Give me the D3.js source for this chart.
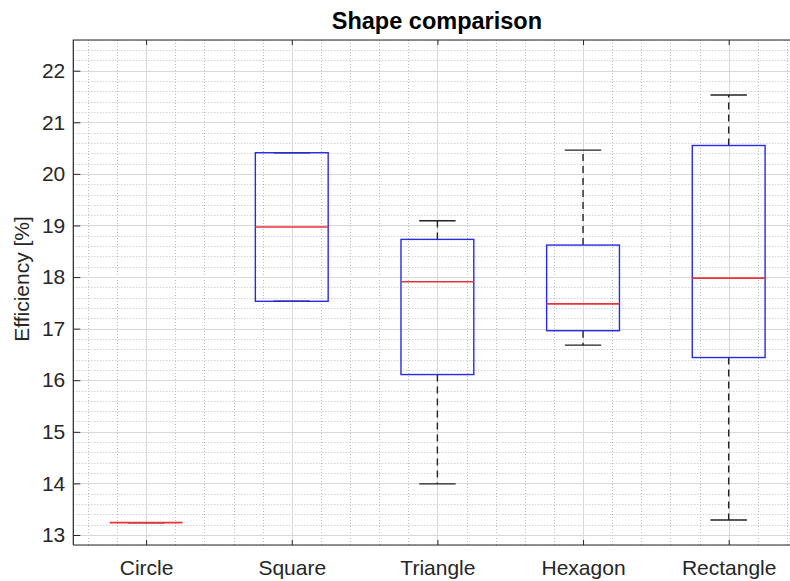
<!DOCTYPE html>
<html>
<head>
<meta charset="utf-8">
<script src="https://cdn.jsdelivr.net/npm/d3@7"></script>
<style>
  html, body { margin: 0; padding: 0; background: #ffffff; }
  svg { display: block; font-family: "Liberation Sans", Arial, Helvetica, sans-serif; }
</style>
</head>
<body>
<svg id="chart" width="790" height="581"></svg>
<script>
// Box statistics per shape (efficiency, %)
const categories  = ["Circle", "Square", "Triangle", "Hexagon", "Rectangle"];
const whiskerLow  = [13.24, 17.53, 13.99, 16.68, 13.29];
const quartile1   = [13.24, 17.53, 16.11, 16.96, 16.44];
const medians     = [13.24, 18.97, 17.91, 17.48, 17.98];
const quartile3   = [13.24, 20.41, 18.73, 18.62, 20.55];
const whiskerHigh = [13.24, 20.41, 19.09, 20.46, 21.53];
const yTicks      = [13, 14, 15, 16, 17, 18, 19, 20, 21, 22];

const title = "Shape comparison";
const yLabel = "Efficiency [%]";

const svg = d3.select("#chart");
const margin = { left: 73.3, top: 40, bottom: 545, right: 801.5 };

const x = d3.scaleLinear().domain([0.5, categories.length + 0.5]).range([margin.left, margin.right]);
const y = d3.scaleLinear().domain([12.806, 22.595]).range([margin.bottom, margin.top]);

const axisColor = "#262626";
const plot = svg.append("g");

// Minor grid (dotted)
const minorY = d3.range(12.8, 22.61, 0.2).map(v => +v.toFixed(1)).filter(v => Math.abs(v - Math.round(v)) > 1e-6);
const minorX = d3.range(0.6, 5.41, 0.2).map(v => +v.toFixed(1)).filter(v => Math.abs(v - Math.round(v)) > 1e-6);

plot.append("g").selectAll("line").data(minorY).join("line")
  .attr("x1", margin.left).attr("x2", margin.right)
  .attr("y1", d => Math.round(y(d)) + 0.5).attr("y2", d => Math.round(y(d)) + 0.5)
  .attr("stroke", "#bdbdbd").attr("stroke-width", 1).attr("stroke-dasharray", "1,2");

plot.append("g").selectAll("line").data(minorX).join("line")
  .attr("y1", margin.top).attr("y2", margin.bottom)
  .attr("x1", d => Math.round(x(d)) + 0.5).attr("x2", d => Math.round(x(d)) + 0.5)
  .attr("stroke", "#bdbdbd").attr("stroke-width", 1).attr("stroke-dasharray", "1,2");

// Major grid (solid)
plot.append("g").selectAll("line").data(yTicks).join("line")
  .attr("x1", margin.left).attr("x2", margin.right)
  .attr("y1", d => Math.round(y(d)) + 0.5).attr("y2", d => Math.round(y(d)) + 0.5)
  .attr("stroke", "#d8d8d8").attr("stroke-width", 1);

plot.append("g").selectAll("line").data(categories.map((c, i) => i + 1)).join("line")
  .attr("y1", margin.top).attr("y2", margin.bottom)
  .attr("x1", d => Math.round(x(d)) + 0.5).attr("x2", d => Math.round(x(d)) + 0.5)
  .attr("stroke", "#d8d8d8").attr("stroke-width", 1);

// Axes (inward ticks)
const yAxis = d3.axisLeft(y).tickValues(yTicks).tickSize(-7).tickPadding(8).tickFormat(d3.format("d"));
const gy = svg.append("g").attr("transform", `translate(${margin.left},0)`).call(yAxis);
gy.select(".domain").remove();
gy.selectAll(".tick line").attr("stroke", axisColor);
gy.selectAll(".tick text").attr("fill", axisColor).style("font-size", "21px")
  .attr("font-family", "Liberation Sans, Arial, sans-serif");

const xAxis = d3.axisBottom(x).tickValues(categories.map((c, i) => i + 1))
  .tickSize(-5).tickPadding(15).tickFormat(d => categories[d - 1]);
const gx = svg.append("g").attr("transform", `translate(0,${margin.bottom})`).call(xAxis);
gx.select(".domain").remove();
gx.selectAll(".tick line").attr("stroke", axisColor);
gx.selectAll(".tick text").attr("fill", axisColor).style("font-size", "21px")
  .attr("font-family", "Liberation Sans, Arial, sans-serif");

const xTop = d3.axisTop(x).tickValues(categories.map((c, i) => i + 1)).tickSize(-5).tickFormat("");
const gxt = svg.append("g").attr("transform", `translate(0,${margin.top})`).call(xTop);
gxt.select(".domain").remove();
gxt.selectAll(".tick line").attr("stroke", axisColor);

// Box border lines (left, top, bottom)
svg.append("path")
  .attr("d", `M${margin.left},${margin.bottom}V${margin.top}H${margin.right + 5}M${margin.left},${margin.bottom}H${margin.right + 5}`)
  .attr("fill", "none").attr("stroke", axisColor).attr("stroke-width", 1.2);

// Boxplots
const boxHalf = 0.25, capHalf = 0.125;
const boxes = svg.append("g").selectAll("g").data(categories.map((c, i) => i)).join("g");

boxes.append("line")
  .attr("x1", i => x(i + 1)).attr("x2", i => x(i + 1))
  .attr("y1", i => y(quartile3[i])).attr("y2", i => y(whiskerHigh[i]))
  .attr("stroke", "#222").attr("stroke-width", 1.4).attr("stroke-dasharray", "7,5");
boxes.append("line")
  .attr("x1", i => x(i + 1)).attr("x2", i => x(i + 1))
  .attr("y1", i => y(quartile1[i])).attr("y2", i => y(whiskerLow[i]))
  .attr("stroke", "#222").attr("stroke-width", 1.4).attr("stroke-dasharray", "7,5");
boxes.append("line")
  .attr("x1", i => x(i + 1 - capHalf)).attr("x2", i => x(i + 1 + capHalf))
  .attr("y1", i => y(whiskerHigh[i])).attr("y2", i => y(whiskerHigh[i]))
  .attr("stroke", "#222").attr("stroke-width", 1.4);
boxes.append("line")
  .attr("x1", i => x(i + 1 - capHalf)).attr("x2", i => x(i + 1 + capHalf))
  .attr("y1", i => y(whiskerLow[i])).attr("y2", i => y(whiskerLow[i]))
  .attr("stroke", "#222").attr("stroke-width", 1.4);

boxes.append("rect")
  .attr("x", i => x(i + 1 - boxHalf))
  .attr("width", i => x(i + 1 + boxHalf) - x(i + 1 - boxHalf))
  .attr("y", i => y(quartile3[i]))
  .attr("height", i => y(quartile1[i]) - y(quartile3[i]))
  .attr("fill", "none").attr("stroke", "#2a2ae6").attr("stroke-width", 1.4);

boxes.append("line")
  .attr("x1", i => x(i + 1 - boxHalf)).attr("x2", i => x(i + 1 + boxHalf))
  .attr("y1", i => y(medians[i])).attr("y2", i => y(medians[i]))
  .attr("stroke", "#e8323c").attr("stroke-width", 1.6);

// Title and axis label
svg.append("text")
  .attr("x", (margin.left + margin.right) / 2 - 0.5).attr("y", 28.5)
  .attr("text-anchor", "middle").attr("fill", "#000")
  .style("font-size", "23.5px").style("font-weight", "bold")
  .text(title);

svg.append("text")
  .attr("transform", `translate(29,279) rotate(-90)`)
  .attr("text-anchor", "middle").attr("fill", axisColor)
  .style("font-size", "21px")
  .text(yLabel);
</script>
</body>
</html>
